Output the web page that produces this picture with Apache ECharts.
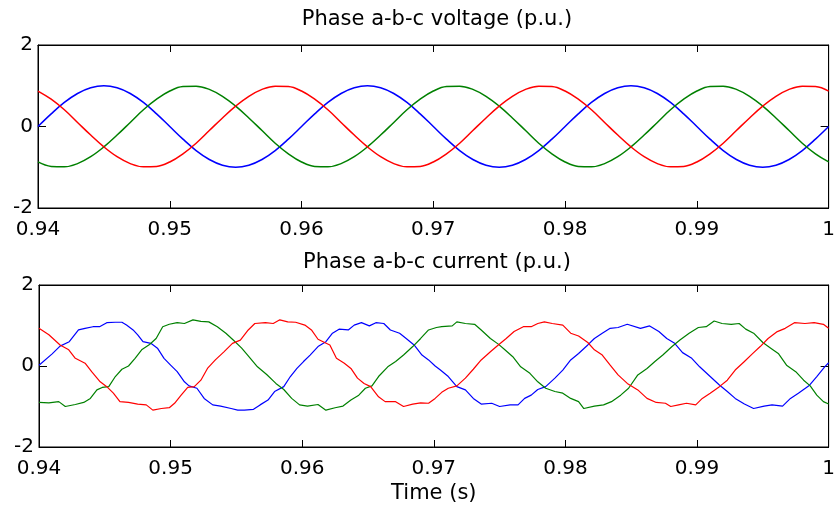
<!DOCTYPE html>
<html>
<head>
<meta charset="utf-8">
<script src="https://cdn.jsdelivr.net/npm/echarts@6/dist/echarts.min.js"></script>
<style>
  html, body { margin: 0; padding: 0; background: #fff; }
  #chart { width: 838px; height: 506px; }
</style>
</head>
<body>
<div id="chart"></div>
<script>
// time offsets in ms from 0.94 s
var voltTimeMs = [0,1,2,3,4,5,6,7,8,9,10,11,12,13,14,15,16,17,18,19,20,
  21,22,23,24,25,26,27,28,29,30,31,32,33,34,35,36,37,38,39,40,
  41,42,43,44,45,46,47,48,49,50,51,52,53,54,55,56,57,58,59,60]

var voltA = [0,0.31,0.59,0.81,0.95,1.0,0.95,0.81,0.59,0.31,0,-0.31,-0.59,-0.81,-0.95,-1.0,-0.95,-0.81,-0.59,-0.31,
  0,0.31,0.59,0.81,0.95,1.0,0.95,0.81,0.59,0.31,0,-0.31,-0.59,-0.81,-0.95,-1.0,-0.95,-0.81,-0.59,-0.31,
  0,0.31,0.59,0.81,0.95,1.0,0.95,0.81,0.59,0.31,0,-0.31,-0.59,-0.81,-0.95,-1.0,-0.95,-0.81,-0.59,-0.31,0]
var voltB = [-0.87,-0.98,-0.99,-0.91,-0.74,-0.5,-0.21,0.1,0.41,0.67,0.87,0.98,0.99,0.91,0.74,0.5,0.21,-0.1,-0.41,-0.67,
  -0.87,-0.98,-0.99,-0.91,-0.74,-0.5,-0.21,0.1,0.41,0.67,0.87,0.98,0.99,0.91,0.74,0.5,0.21,-0.1,-0.41,-0.67,
  -0.87,-0.98,-0.99,-0.91,-0.74,-0.5,-0.21,0.1,0.41,0.67,0.87,0.98,0.99,0.91,0.74,0.5,0.21,-0.1,-0.41,-0.67,-0.87]
var voltC = [0.87,0.67,0.41,0.1,-0.21,-0.5,-0.74,-0.91,-0.99,-0.98,-0.87,-0.67,-0.41,-0.1,0.21,0.5,0.74,0.91,0.99,0.98,
  0.87,0.67,0.41,0.1,-0.21,-0.5,-0.74,-0.91,-0.99,-0.98,-0.87,-0.67,-0.41,-0.1,0.21,0.5,0.74,0.91,0.99,0.98,
  0.87,0.67,0.41,0.1,-0.21,-0.5,-0.74,-0.91,-0.99,-0.98,-0.87,-0.67,-0.41,-0.1,0.21,0.5,0.74,0.91,0.99,0.98,0.87]

// current readings: [ms from 0.94 s, p.u.]
var currA = [[0,0.02],[1,0.3],[1.6,0.49],[2.3,0.6],[3,0.89],[3.5,0.93],[4.1,0.97],[4.6,0.97],[5.15,1.07],[5.8,1.08],
  [6.3,1.08],[6.65,1.01],[7.15,0.89],[7.5,0.77],[7.9,0.6],[8.5,0.56],[9,0.44],[9.5,0.19],[10,0.02],[10.5,-0.14],
  [11.05,-0.39],[11.4,-0.49],[12,-0.55],[12.55,-0.8],[13.2,-0.96],[13.8,-0.99],[14.6,-1.05],[15.1,-1.09],[15.6,-1.09],[16.3,-1.07],
  [16.8,-0.96],[17.4,-0.84],[17.9,-0.63],[18.6,-0.51],[19.1,-0.26],[19.6,-0.06],[20.1,0.11],[20.6,0.27],[21.2,0.48],[21.8,0.6],
  [22.3,0.81],[22.8,0.91],[23.5,0.89],[23.95,1.01],[24.5,1.07],[25.1,0.99],[25.6,1.07],[26.2,1.05],[26.7,0.89],[27.4,0.81],
  [27.9,0.68],[28.5,0.52],[29.1,0.27],[29.6,0.15],[30.1,0.0],[30.5,-0.1],[31.1,-0.26],[31.75,-0.51],[32.4,-0.59],[33,-0.8],
  [33.6,-0.94],[34.4,-0.92],[35,-1.0],[35.8,-0.96],[36.4,-0.96],[36.9,-0.8],[37.4,-0.72],[37.9,-0.58],[38.5,-0.51],[39.2,-0.3],
  [39.8,-0.1],[40.4,0.15],[41,0.31],[41.7,0.52],[42.2,0.68],[42.8,0.81],[43.4,0.93],[44,0.95],[44.7,1.03],[45.7,0.93],
  [46.4,0.99],[47.1,0.85],[47.7,0.68],[48.3,0.56],[48.9,0.33],[49.6,0.19],[50.2,-0.02],[51,-0.26],[51.7,-0.47],[52.3,-0.63],
  [52.9,-0.8],[53.6,-0.94],[54.3,-1.05],[55.1,-0.99],[55.7,-0.96],[56.5,-0.99],[57.1,-0.8],[57.7,-0.67],[58.5,-0.49],[59.1,-0.26],
  [59.7,-0.02],[60,0.08]]
var currB = [[0,-0.9],[0.75,-0.91],[1.5,-0.88],[2,-1.0],[2.76,-0.95],[3.4,-0.9],[3.9,-0.8],[4.4,-0.59],[4.8,-0.53],[5.3,-0.51],
  [5.8,-0.26],[6.3,-0.08],[6.8,0],[7.3,0.19],[7.8,0.4],[8.4,0.53],[8.9,0.68],[9.4,0.97],[9.9,1.03],[10.5,1.07],
  [11.05,1.05],[11.7,1.14],[12.3,1.1],[12.9,1.09],[13.55,0.97],[14.2,0.81],[14.8,0.63],[15.4,0.44],[15.9,0.25],[16.6,-0.02],
  [17.3,-0.21],[18,-0.43],[18.6,-0.58],[19.2,-0.8],[19.8,-0.96],[20.4,-0.99],[21.2,-0.95],[21.8,-1.09],[22.5,-1.03],[23.1,-0.99],
  [23.7,-0.84],[24.3,-0.72],[24.8,-0.55],[25.3,-0.49],[25.8,-0.26],[26.5,-0.02],[27.1,0.11],[27.7,0.27],[28.4,0.48],[29,0.68],
  [29.6,0.89],[30.2,0.95],[30.6,0.97],[31.4,0.99],[31.75,1.09],[32.4,1.05],[33.1,1.03],[33.6,0.89],[34.3,0.68],[34.9,0.54],
  [35.4,0.4],[36,0.23],[36.6,-0.02],[37.3,-0.18],[37.9,-0.39],[38.5,-0.55],[39.2,-0.63],[39.8,-0.67],[40.4,-0.8],[41,-0.88],
  [41.4,-1.05],[42.2,-0.99],[42.9,-0.96],[43.5,-0.88],[44.2,-0.72],[44.8,-0.55],[45.5,-0.22],[46.2,-0.06],[46.8,0.11],[47.4,0.27],
  [48.1,0.48],[48.7,0.64],[49.4,0.81],[50.1,0.95],[50.7,0.97],[51.3,1.11],[51.9,1.05],[52.6,1.03],[53.2,1.05],[53.7,0.91],
  [54.3,0.81],[55,0.58],[55.6,0.44],[56.2,0.3],[56.8,0.02],[57.5,-0.14],[58.1,-0.35],[58.6,-0.49],[59.1,-0.72],[59.6,-0.88],
  [60,-0.94]]
var currC = [[0,0.93],[0.75,0.77],[1.6,0.52],[2.26,0.4],[2.76,0.19],[3.5,0.07],[4,-0.14],[4.65,-0.39],[5.15,-0.51],[5.65,-0.67],
  [6.15,-0.88],[6.8,-0.9],[7.5,-0.94],[8.15,-0.96],[8.65,-1.09],[9.3,-1.05],[9.9,-1.03],[10.3,-0.92],[10.8,-0.72],[11.3,-0.53],
  [11.8,-0.51],[12.3,-0.35],[12.8,-0.06],[13.4,0.15],[14.05,0.35],[14.7,0.56],[15.3,0.64],[15.9,0.89],[16.4,1.05],[17.2,1.07],
  [17.8,1.05],[18.3,1.14],[18.9,1.09],[19.5,1.08],[20.2,1.01],[20.7,0.89],[21.2,0.66],[21.7,0.58],[22.1,0.52],[22.6,0.19],
  [23.2,0.07],[23.7,-0.06],[24.2,-0.3],[24.7,-0.43],[25.2,-0.51],[25.8,-0.76],[26.3,-0.88],[27.1,-0.88],[27.7,-1.0],[28.4,-0.94],
  [29,-0.91],[29.6,-0.92],[30.1,-0.8],[30.6,-0.65],[31.1,-0.55],[31.75,-0.49],[32.4,-0.3],[33,-0.08],[33.6,0.15],[34.3,0.35],
  [34.9,0.52],[35.5,0.68],[36.1,0.85],[36.8,0.97],[37.4,0.97],[37.9,1.05],[38.4,1.09],[39,1.05],[39.8,1.01],[40.4,0.81],
  [41,0.74],[41.7,0.58],[42.2,0.4],[42.8,0.27],[43.4,0.02],[44,-0.22],[44.7,-0.43],[45.5,-0.59],[46.2,-0.8],[46.9,-0.9],
  [47.6,-0.92],[48,-1.0],[48.6,-0.96],[49.2,-0.92],[49.9,-0.96],[50.4,-0.8],[51,-0.67],[51.7,-0.51],[52.3,-0.35],[52.9,-0.1],
  [53.6,0.11],[54.2,0.3],[54.8,0.48],[55.4,0.68],[56.1,0.85],[56.7,0.93],[57.4,1.07],[58.2,1.05],[58.9,1.07],[59.6,1.03],
  [60,0.93]]

var timeStart = 0.94
var timeTicks = [0.94, 0.95, 0.96, 0.97, 0.98, 0.99, 1]
var yTicks = [-2, 0, 2]
var titles = ['Phase a-b-c voltage (p.u.)', 'Phase a-b-c current (p.u.)']
var colors = ['#0000ff', '#008000', '#ff0000']

var font = 'DejaVu Sans'

function voltPoints(vals) {
  return voltTimeMs.map(function (ms, i) { return [timeStart + ms / 1000, vals[i]] })
}
function currPoints(pairs) {
  return pairs.map(function (p) { return [timeStart + p[0] / 1000, p[1]] })
}

function xAx(grid, pos, labels, name) {
  return {
    type: 'value', gridIndex: grid, position: pos,
    min: timeTicks[0], max: timeTicks[timeTicks.length - 1], interval: 0.01,
    axisLine: { show: true, onZero: false, lineStyle: { color: '#000', width: 1 } },
    axisTick: { show: true, inside: true, length: 7, lineStyle: { color: '#000' } },
    axisLabel: {
      show: labels, color: '#000', fontFamily: font, fontSize: 20, margin: 12,
      alignMinLabel: 'center', alignMaxLabel: 'center',
      formatter: function (v) { return String(Math.round(v * 100) / 100) }
    },
    splitLine: { show: false },
    name: name || '', nameLocation: 'middle', nameGap: 36,
    nameTextStyle: { color: '#000', fontFamily: font, fontSize: 21 }
  }
}
function yAx(grid, pos, labels) {
  return {
    type: 'value', gridIndex: grid, position: pos,
    min: yTicks[0], max: yTicks[yTicks.length - 1], interval: 2,
    axisLine: { show: true, onZero: false, lineStyle: { color: '#000', width: 1 } },
    axisTick: { show: true, inside: true, length: 8, lineStyle: { color: '#000' } },
    axisLabel: { show: labels, color: '#000', fontFamily: font, fontSize: 20, margin: 5 },
    splitLine: { show: false }
  }
}
function line(name, data, xi, yi, color, width, smooth) {
  return {
    name: name, type: 'line', data: data, xAxisIndex: xi, yAxisIndex: yi,
    showSymbol: false, smooth: smooth, clip: true,
    lineStyle: { color: color, width: width }, itemStyle: { color: color }
  }
}

var chart = echarts.init(document.getElementById('chart'))
chart.setOption({
  animation: false,
  backgroundColor: '#fff',
  title: [
    { text: titles[0], left: 437, top: 9, textAlign: 'center', padding: 0,
      textStyle: { color: '#000', fontFamily: font, fontSize: 21, fontWeight: 'normal' } },
    { text: titles[1], left: 437, top: 252, textAlign: 'center', padding: 0,
      textStyle: { color: '#000', fontFamily: font, fontSize: 21, fontWeight: 'normal' } }
  ],
  grid: [
    { left: 38, right: 1, top: 45, height: 163, show: true, borderColor: '#000', borderWidth: 1 },
    { left: 39, right: 1, top: 285, height: 162, show: true, borderColor: '#000', borderWidth: 1 }
  ],
  xAxis: [xAx(0, 'bottom', true), xAx(0, 'top', false), xAx(1, 'bottom', true, 'Time (s)'), xAx(1, 'top', false)],
  yAxis: [yAx(0, 'left', true), yAx(0, 'right', false), yAx(1, 'left', true), yAx(1, 'right', false)],
  series: [
    line('Va', voltPoints(voltA), 0, 0, colors[0], 1.5, 0.4),
    line('Vb', voltPoints(voltB), 0, 0, colors[1], 1.5, 0.4),
    line('Vc', voltPoints(voltC), 0, 0, colors[2], 1.5, 0.4),
    line('Ia', currPoints(currA), 2, 2, colors[0], 1.2, false),
    line('Ib', currPoints(currB), 2, 2, colors[1], 1.2, false),
    line('Ic', currPoints(currC), 2, 2, colors[2], 1.2, false)
  ]
})
</script>
</body>
</html>
